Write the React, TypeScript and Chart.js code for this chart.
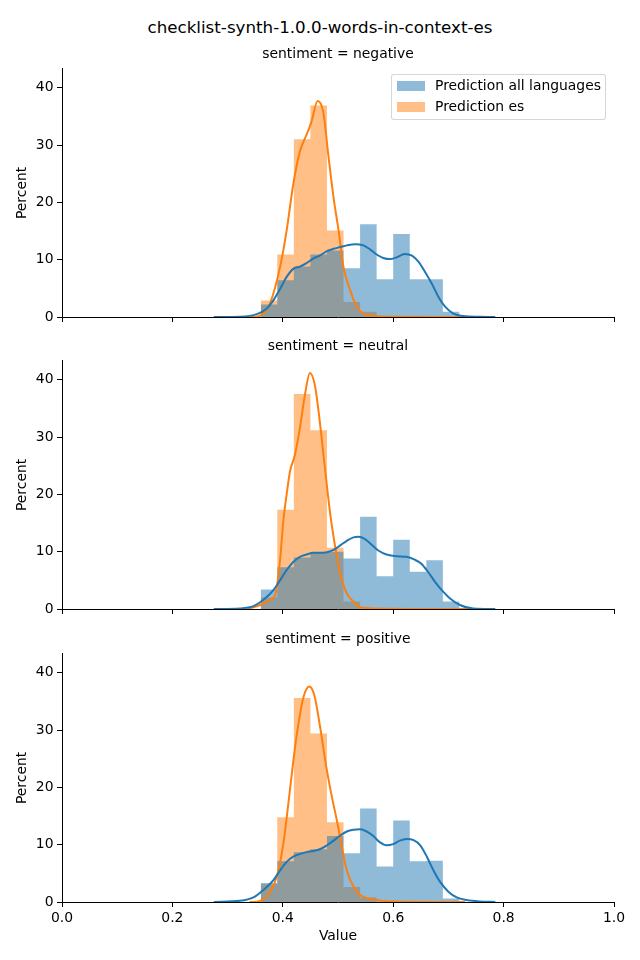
import React, { useEffect, useRef } from 'react';
import { Chart, registerables } from 'chart.js';

Chart.register(...registerables);

// ---- data ----
const suptitle = 'checklist-synth-1.0.0-words-in-context-es';
const panelTitles = ['sentiment = negative', 'sentiment = neutral', 'sentiment = positive'];
const legendLabels = ['Prediction all languages', 'Prediction es'];
const xTickValues = [0, 0.2, 0.4, 0.6, 0.8, 1.0];
const yTickValues = [0, 10, 20, 30, 40];

// histogram bin edges (bin width 0.03): 12 bins
const binEdges = [0.36, 0.39, 0.42, 0.45, 0.48, 0.51, 0.54, 0.57, 0.6, 0.63, 0.66, 0.69, 0.72];

const negAllHist = [2.2, 6.4, 8.8, 10.9, 11.6, 8.5, 16.2, 6.6, 14.5, 6.6, 6.6, 0.9];
const negEsHist = [2.9, 10.9, 31.0, 36.9, 15.1, 2.6, 0.9, 0, 0, 0, 0, 0];
const neuAllHist = [3.4, 7.3, 9.0, 9.8, 10.0, 8.8, 16.1, 5.7, 12.1, 6.5, 8.5, 1.3];
const neuEsHist = [2.0, 17.3, 37.5, 31.2, 10.7, 1.3, 0, 0, 0, 0, 0, 0];
const posAllHist = [3.3, 7.1, 8.7, 9.2, 11.5, 8.5, 16.3, 6.2, 14.2, 7.1, 7.2, 0.6];
const posEsHist = [3.1, 14.8, 35.6, 29.4, 13.9, 2.6, 0.8, 0, 0, 0, 0, 0];

// KDE curves
const negAllKdeX = [0.275, 0.3225, 0.353, 0.371, 0.383, 0.395, 0.407, 0.419, 0.431, 0.443, 0.455, 0.467, 0.48, 0.492, 0.504, 0.516, 0.531, 0.546, 0.558, 0.57, 0.582, 0.594, 0.606, 0.621, 0.634, 0.646, 0.658, 0.67, 0.682, 0.694, 0.709, 0.727, 0.757, 0.785];
const negAllKdeY = [0, 0.06, 0.5, 1.5, 2.9, 4.9, 7.0, 8.4, 8.8, 9.4, 10.2, 10.7, 11.5, 11.9, 12.2, 12.5, 12.7, 12.5, 11.8, 10.9, 10.3, 10.1, 10.4, 11.0, 10.7, 9.6, 7.8, 5.8, 3.5, 1.8, 0.6, 0.17, 0.05, 0];
const negEsKdeX = [0.341, 0.355, 0.365, 0.377, 0.395, 0.407, 0.419, 0.431, 0.443, 0.452, 0.463, 0.473, 0.483, 0.492, 0.501, 0.51, 0.522, 0.534, 0.546, 0.564, 0.6, 0.727];
const negEsKdeY = [0, 0.1, 0.6, 2.4, 8.7, 15.1, 23.2, 28.9, 31.8, 34.1, 37.7, 35.9, 27.8, 20.8, 15.1, 8.7, 4.7, 1.8, 0.6, 0.2, 0.03, 0];

const neuAllKdeX = [0.275, 0.3225, 0.347, 0.365, 0.383, 0.395, 0.407, 0.419, 0.431, 0.443, 0.455, 0.467, 0.48, 0.492, 0.504, 0.516, 0.528, 0.537, 0.549, 0.561, 0.573, 0.588, 0.606, 0.624, 0.639, 0.651, 0.663, 0.676, 0.688, 0.703, 0.721, 0.745, 0.785];
const neuAllKdeY = [0, 0.1, 0.5, 1.6, 3.3, 5.0, 6.8, 8.2, 9.1, 9.5, 9.8, 9.8, 9.9, 10.3, 11.1, 11.9, 12.5, 12.6, 12.2, 11.2, 10.2, 9.5, 9.2, 9.1, 8.6, 7.9, 6.5, 4.7, 3.3, 1.85, 0.7, 0.1, 0];
const neuEsKdeX = [0.336, 0.359, 0.377, 0.386, 0.395, 0.401, 0.407, 0.413, 0.422, 0.431, 0.44, 0.449, 0.458, 0.467, 0.477, 0.486, 0.495, 0.504, 0.516, 0.528, 0.54, 0.564, 0.751];
const neuEsKdeY = [0, 0.7, 1.6, 2.4, 8.5, 15.4, 20.0, 24.0, 26.9, 31.6, 37.3, 41.2, 39.1, 32.7, 24.0, 16.5, 10.8, 6.2, 2.7, 1.3, 0.3, 0.1, 0];

const posAllKdeX = [0.275, 0.3225, 0.347, 0.365, 0.383, 0.395, 0.407, 0.419, 0.431, 0.443, 0.455, 0.467, 0.48, 0.492, 0.504, 0.516, 0.528, 0.54, 0.552, 0.564, 0.576, 0.588, 0.6, 0.612, 0.624, 0.637, 0.649, 0.661, 0.673, 0.685, 0.7, 0.715, 0.733, 0.757, 0.785];
const posAllKdeY = [0, 0.2, 0.8, 2.1, 3.8, 5.5, 7.0, 7.9, 8.4, 8.7, 8.9, 9.2, 9.9, 10.7, 11.6, 12.3, 12.6, 12.7, 12.3, 11.5, 10.4, 9.9, 10.1, 10.7, 11.0, 10.8, 9.9, 7.9, 5.5, 3.5, 1.8, 0.8, 0.35, 0.1, 0];
const posEsKdeX = [0.34, 0.359, 0.377, 0.389, 0.401, 0.41, 0.419, 0.428, 0.437, 0.448, 0.457, 0.467, 0.478, 0.489, 0.498, 0.507, 0.516, 0.528, 0.54, 0.555, 0.57, 0.588, 0.73];
const posEsKdeY = [0, 0.2, 1.8, 4.4, 10.2, 17.1, 24.6, 30.9, 35.6, 37.6, 36.1, 30.9, 24.0, 18.3, 14.2, 9.6, 5.5, 2.7, 1.2, 0.6, 0.35, 0.15, 0];

const panels = [
  { allHist: negAllHist, esHist: negEsHist, allKdeX: negAllKdeX, allKdeY: negAllKdeY, esKdeX: negEsKdeX, esKdeY: negEsKdeY },
  { allHist: neuAllHist, esHist: neuEsHist, allKdeX: neuAllKdeX, allKdeY: neuAllKdeY, esKdeX: neuEsKdeX, esKdeY: neuEsKdeY },
  { allHist: posAllHist, esHist: posEsHist, allKdeX: posAllKdeX, allKdeY: posAllKdeY, esKdeX: posEsKdeX, esKdeY: posEsKdeY },
];

// ---- styles ----
const BLUE = '#1f77b4';
const ORANGE = '#ff7f0e';
const BLUE_A = 'rgba(31,119,180,0.5)';
const ORANGE_A = 'rgba(255,127,14,0.5)';
const FONT = "'DejaVu Sans', sans-serif";

const canvasTops = [57, 349, 642];
const canvasHeights = [280, 280, 308];
const xAxisHeights = [20, 20, 48];
const subtitleY = [54, 346, 639];

// step points for a histogram: one point per left edge, plus the final right edge
function histPoints(hist: number[]) {
  const pts = hist.map((h, i) => ({ x: binEdges[i], y: h }));
  pts.push({ x: binEdges[binEdges.length - 1], y: hist[hist.length - 1] });
  return pts;
}

function makeChart(canvas: HTMLCanvasElement, idx: number) {
  const p = panels[idx];
  const isBottom = idx === 2;
  const kde = (xs: number[], ys: number[], color: string, order: number) => ({
    type: 'line',
    data: xs.map((x, i) => ({ x, y: ys[i] })),
    borderColor: color,
    borderWidth: 2,
    pointRadius: 0,
    fill: false,
    cubicInterpolationMode: 'monotone',
    order,
  });
  const hist = (vals: number[], color: string, label: string, order: number) => ({
    type: 'line',
    label,
    data: histPoints(vals),
    stepped: 'before',
    borderWidth: 0,
    borderColor: 'rgba(0,0,0,0)',
    backgroundColor: color,
    pointRadius: 0,
    fill: 'origin',
    order,
  });
  return new Chart(canvas, {
    type: 'line',
    data: {
      datasets: [
        kde(p.allKdeX, p.allKdeY, BLUE, 0),
        kde(p.esKdeX, p.esKdeY, ORANGE, 1),
        hist(p.allHist, BLUE_A, legendLabels[0], 2),
        hist(p.esHist, ORANGE_A, legendLabels[1], 3),
      ] as any,
    },
    options: {
      animation: false,
      responsive: false,
      maintainAspectRatio: false,
      devicePixelRatio: 1,
      layout: { padding: { left: 0, right: 26, top: 10, bottom: 0 } },
      plugins: { legend: { display: false }, tooltip: { enabled: false }, title: { display: false }, filler: { propagate: false } },
      scales: {
        x: {
          type: 'linear',
          min: 0,
          max: 1,
          offset: false,
          afterBuildTicks: (s: any) => {
            s.ticks = xTickValues.map((v) => ({ value: v }));
          },
          afterFit: (s: any) => {
            s.height = xAxisHeights[idx];
          },
          grid: {
            offset: false,
            drawOnChartArea: false,
            drawTicks: true,
            tickLength: 5,
            tickWidth: 1,
            tickColor: '#000',
            color: '#000',
          },
          border: { display: true, color: '#000', width: 1 },
          ticks: {
            display: true,
            padding: 3,
            color: '#000',
            maxRotation: 0,
            autoSkip: false,
            font: { family: FONT, size: 13.9 },
            callback: (v: any) => (isBottom ? Number(v).toFixed(1) : ''),
          },
          title: {
            display: isBottom,
            text: 'Value',
            color: '#000',
            font: { family: FONT, size: 13.9 },
            padding: { top: 0, bottom: 5 },
          },
        },
        y: {
          type: 'linear',
          min: 0,
          max: 43.3,
          afterBuildTicks: (s: any) => {
            s.ticks = yTickValues.map((v) => ({ value: v }));
          },
          afterFit: (s: any) => {
            s.width = 62;
          },
          grid: {
            drawOnChartArea: false,
            drawTicks: true,
            tickLength: 5,
            tickWidth: 1,
            tickColor: '#000',
            color: '#000',
          },
          border: { display: true, color: '#000', width: 1 },
          ticks: {
            padding: 3.5,
            color: '#000',
            font: { family: FONT, size: 13.9 },
            callback: (v: any) => String(v),
          },
          title: {
            display: true,
            text: 'Percent',
            color: '#000',
            font: { family: FONT, size: 13.9 },
            padding: { top: 14, bottom: 0 },
          },
        },
      },
    } as any,
  });
}

export default function App() {
  const r0 = useRef<HTMLCanvasElement>(null);
  const r1 = useRef<HTMLCanvasElement>(null);
  const r2 = useRef<HTMLCanvasElement>(null);

  useEffect(() => {
    const refs = [r0, r1, r2];
    const charts = refs.map((r, i) => makeChart(r.current as HTMLCanvasElement, i));
    return () => charts.forEach((c) => c.destroy());
  }, []);

  const refs = [r0, r1, r2];
  const textStyle = (x: number, y: number, size: number): React.CSSProperties => ({
    position: 'absolute',
    left: x,
    top: y,
    transform: 'translate(-50%, -50%)',
    fontFamily: FONT,
    fontSize: size,
    lineHeight: 1,
    color: '#000',
    whiteSpace: 'nowrap',
  });

  return (
    <div style={{ position: 'absolute', left: 0, top: 0, width: 640, height: 960, background: '#fff', overflow: 'hidden' }}>
      {refs.map((r, i) => (
        <canvas
          key={i}
          ref={r}
          width={640}
          height={canvasHeights[i]}
          style={{ position: 'absolute', left: 0, top: canvasTops[i], width: 640, height: canvasHeights[i] }}
        />
      ))}
      <div style={textStyle(320, 27, 16.7)}>{suptitle}</div>
      {panelTitles.map((t, i) => (
        <div key={t} style={textStyle(338, subtitleY[i], 13.9)}>{t}</div>
      ))}
      <div
        style={{
          position: 'absolute',
          left: 391,
          top: 74,
          width: 215,
          height: 46,
          boxSizing: 'border-box',
          border: '1px solid rgba(204,204,204,0.8)',
          borderRadius: 3,
          background: 'rgba(255,255,255,0.8)',
        }}
      />
      {legendLabels.map((l, i) => (
        <React.Fragment key={l}>
          <div
            style={{
              position: 'absolute',
              left: 397,
              top: i === 0 ? 81 : 102,
              width: 28,
              height: 10,
              background: i === 0 ? BLUE_A : ORANGE_A,
            }}
          />
          <div
            style={{
              position: 'absolute',
              left: 435,
              top: i === 0 ? 86 : 107,
              transform: 'translateY(-50%)',
              fontFamily: FONT,
              fontSize: 13.9,
              lineHeight: 1,
              color: '#000',
              whiteSpace: 'nowrap',
            }}
          >
            {l}
          </div>
        </React.Fragment>
      ))}
    </div>
  );
}
